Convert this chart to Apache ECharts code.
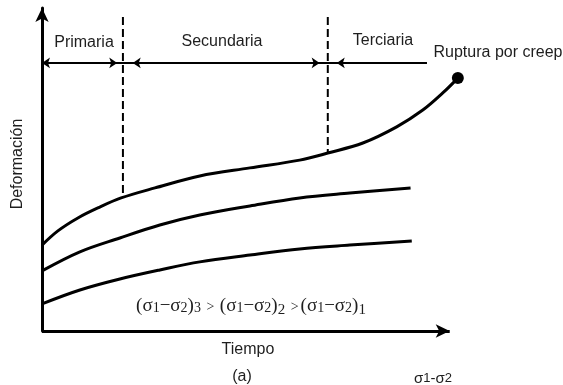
<!DOCTYPE html>
<html>
<head>
<meta charset="utf-8">
<script src="https://cdn.jsdelivr.net/npm/echarts@6/dist/echarts.min.js"></script>
<style>html,body{margin:0;padding:0;background:#fff;}#c{width:563px;height:385px;}</style>
</head>
<body>
<div id="c"></div>
<script>
// Data (time 0..100, deformation 0..100)
var topX = [0, 3.9, 8.8, 13.7, 19.4, 27.7, 38.7, 51.0, 63.2, 70.1, 78.7, 87.0, 93.4, 98.3, 102.0];
var topY = [26.6, 31.0, 35.0, 38.1, 41.2, 44.3, 48.0, 50.5, 52.9, 55.1, 58.2, 63.2, 68.4, 73.7, 78.3];
var midX = [0, 9.3, 19.1, 28.9, 38.7, 51.0, 63.2, 75.5, 90.4];
var midY = [18.6, 24.5, 28.8, 32.8, 35.9, 38.7, 41.2, 42.7, 44.3];
var lowX = [0, 9.3, 19.1, 28.9, 38.7, 51.0, 63.2, 75.5, 90.7];
var lowY = [8.4, 12.7, 16.1, 18.9, 21.4, 23.5, 25.4, 26.6, 27.9];
var phaseBounds = [19.85, 70.1];      // primary/secondary, secondary/tertiary
var phaseBoundY = [41.4, 55.1];       // where the dashed lines meet the upper curve
var phaseTop = 97.2;                  // top of dashed lines
var phaseLineY = 83.0;                // level of the phase arrow line
var phaseLineEnd = 94.4;
var phaseNames = ['Primaria', 'Secundaria', 'Terciaria'];
var timeAxisEnd = 100;

function pts(xs, ys) { return xs.map(function (x, i) { return [x, ys[i]]; }); }

var topData = pts(topX, topY).map(function (p, i, a) {
  if (i === a.length - 1) return { value: p, symbol: 'circle', symbolSize: 12 };
  return { value: p, symbol: 'none' };
});

var TXT = '#1e1e1e';
var SANS = '"Liberation Sans", Arial, sans-serif';
var SERIF = '"Liberation Serif", "DejaVu Serif", serif';
var chart = echarts.init(document.getElementById('c'), null, { renderer: 'canvas' });

var curveStyle = { color: '#000', width: 3 };
var dashStyle = { color: '#000', width: 2, type: [8, 4] };
var arrowLineStyle = { color: '#000', width: 2, type: 'solid' };

chart.setOption({
  animation: false,
  backgroundColor: '#fff',
  grid: { left: 42, right: 97, top: 8, bottom: 54, outerBoundsMode: 'none' },
  xAxis: {
    type: 'value', min: 0, max: 104,
    axisLine: { show: false },
    axisTick: { show: false }, axisLabel: { show: false }, splitLine: { show: false }
  },
  yAxis: {
    type: 'value', min: 0, max: 100,
    axisLine: { lineStyle: { color: '#000', width: 3 }, symbol: ['none', 'arrow'], symbolSize: [10, 14] },
    axisTick: { show: false }, axisLabel: { show: false }, splitLine: { show: false }
  },
  series: [
    { type: 'line', data: topData, smooth: 0.35, showSymbol: true,
      itemStyle: { color: '#000' }, lineStyle: curveStyle, z: 5 },
    { type: 'line', data: pts(midX, midY), smooth: 0.35, symbol: 'none', lineStyle: curveStyle },
    { type: 'line', data: pts(lowX, lowY), smooth: 0.35, symbol: 'none', lineStyle: curveStyle },
    { type: 'line', data: [[phaseBounds[0], phaseTop], [phaseBounds[0], phaseBoundY[0]]], symbol: 'none', lineStyle: dashStyle },
    { type: 'line', data: [[phaseBounds[1], phaseTop], [phaseBounds[1], phaseBoundY[1]]], symbol: 'none', lineStyle: dashStyle },
    { type: 'line', data: [[0, phaseLineY], [phaseLineEnd, phaseLineY]], symbol: 'none', lineStyle: arrowLineStyle,
      markLine: {
        silent: true, symbolSize: 8, label: { show: false },
        lineStyle: arrowLineStyle,
        data: [
          [{ coord: [0, phaseLineY], symbol: 'arrow' }, { coord: [phaseBounds[0] - 1.4, phaseLineY], symbol: 'arrow' }],
          [{ coord: [phaseBounds[0] + 2.4, phaseLineY], symbol: 'arrow' }, { coord: [phaseBounds[1] - 2.0, phaseLineY], symbol: 'arrow' }],
          [{ coord: [phaseBounds[1] + 2.2, phaseLineY], symbol: 'arrow' }, { coord: [phaseLineEnd, phaseLineY], symbol: 'none' }]
        ]
      }
    },
    // time axis with arrow
    { type: 'line', data: [], symbol: 'none',
      markLine: {
        silent: true, label: { show: false }, symbolSize: [10, 14],
        lineStyle: { color: '#000', width: 3, type: 'solid' },
        data: [[{ coord: [0, 0], symbol: 'none' }, { coord: [timeAxisEnd, 0], symbol: 'arrow' }]]
      }
    }
  ],
  graphic: [
    { type: 'text', x: 84, y: 43, style: { text: phaseNames[0], fill: TXT, font: '16px ' + SANS, align: 'center', verticalAlign: 'middle' } },
    { type: 'text', x: 222, y: 42, style: { text: phaseNames[1], fill: TXT, font: '16px ' + SANS, align: 'center', verticalAlign: 'middle' } },
    { type: 'text', x: 383, y: 41, style: { text: phaseNames[2], fill: TXT, font: '16px ' + SANS, align: 'center', verticalAlign: 'middle' } },
    { type: 'text', x: 498, y: 53, style: { text: 'Ruptura por creep', fill: TXT, font: '16px ' + SANS, align: 'center', verticalAlign: 'middle' } },
    { type: 'text', x: 18, y: 164, rotation: Math.PI / 2, style: { text: 'Deformación', fill: TXT, font: '16px ' + SANS, align: 'center', verticalAlign: 'middle' } },
    { type: 'text', x: 248, y: 350, style: { text: 'Tiempo', fill: TXT, font: '16px ' + SANS, align: 'center', verticalAlign: 'middle' } },
    { type: 'text', x: 242, y: 377, style: { text: '(a)', fill: TXT, font: '16px ' + SANS, align: 'center', verticalAlign: 'middle' } },
    { type: 'text', x: 433, y: 377, style: {
        text: '{a|σ}{b|1}{a|-σ}{b|2}', align: 'center', verticalAlign: 'middle',
        rich: {
          a: { fill: TXT, fontSize: 15, fontFamily: SANS, lineHeight: 18, verticalAlign: 'bottom' },
          b: { fill: TXT, fontSize: 13, fontFamily: SANS, lineHeight: 18, verticalAlign: 'bottom', padding: [0, 0, 1, 0] }
        } } },
    { type: 'text', x: 251, y: 306, style: {
        text: '{m|(σ}{d|1}{m|−σ}{d|2}{m|)}{d|3}{g| > }{m|(σ}{d|1}{m|−σ}{d|2}{m|)}{s|2}{g| >}{m|(σ}{d|1}{m|−σ}{d|2}{m|)}{s|1}',
        align: 'center', verticalAlign: 'middle',
        rich: {
          m: { fill: TXT, fontSize: 19, fontFamily: SERIF, lineHeight: 24, verticalAlign: 'middle' },
          g: { fill: TXT, fontSize: 14, fontFamily: SERIF, lineHeight: 24, verticalAlign: 'middle', padding: [3, 2, 0, 2] },
          d: { fill: TXT, fontSize: 14, fontFamily: SERIF, lineHeight: 24, verticalAlign: 'middle', padding: [5, 0, 0, 0] },
          s: { fill: TXT, fontSize: 15, fontFamily: SERIF, lineHeight: 24, verticalAlign: 'bottom' }
        } } }
  ]
});
</script>
</body>
</html>
